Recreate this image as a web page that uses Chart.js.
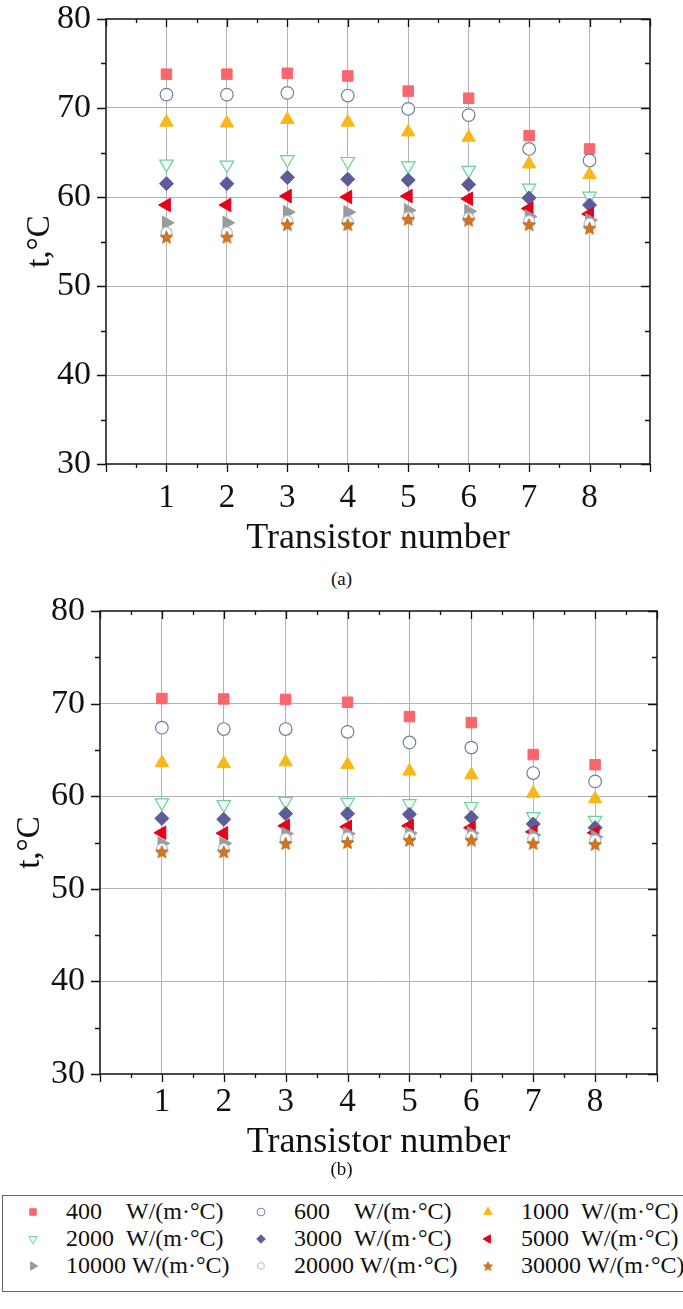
<!DOCTYPE html>
<html>
<head>
<meta charset="utf-8">
<script src="https://cdn.jsdelivr.net/npm/chart.js@4.4.1/dist/chart.umd.min.js"></script>
<style>
    body { margin: 0; background: #fff; width: 683px; height: 1309px; position: relative; overflow: hidden; font-family: "Liberation Serif", "Times New Roman", serif; color: #111; }
    .wrap { position: absolute; left: 0; width: 683px; }
    #wrapA { top: 0; height: 560px; }
    #wrapB { top: 590px; height: 574px; }
    .cap { position: absolute; width: 683px; left: 0; text-align: center; font-size: 19px; line-height: 22px; }
    #legend { position: absolute; left: 2px; top: 1195px; width: 700px; height: 97px; border: 1px solid #666; box-sizing: border-box; }
    .item { position: absolute; height: 27px; font-size: 24px; line-height: 27px; white-space: nowrap; }
    .item canvas { position: absolute; left: 0; top: 4px; }
    .item .num { position: absolute; left: 43px; }
    .item .unit { position: absolute; }
</style>
</head>
<body>
<div class="wrap" id="wrapA"><canvas id="chartA"></canvas></div>
<div class="cap" style="top:568px">(a)</div>
<div class="wrap" id="wrapB"><canvas id="chartB"></canvas></div>
<div class="cap" style="top:1158px">(b)</div>
<div id="legend"></div>

<script>
    const transistors = [1, 2, 3, 4, 5, 6, 7, 8];
    const yTickLabels = [30, 40, 50, 60, 70, 80];
    const hLabels = ["400", "600", "1000", "2000", "3000", "5000", "10000", "20000", "30000"];
    const unit = "W/(m·°C)";

    // (a)
    const a400 = [73.8, 73.8, 73.9, 73.6, 71.9, 71.1, 66.9, 65.4];
    const a600 = [71.5, 71.5, 71.7, 71.4, 69.9, 69.2, 65.4, 64.1];
    const a1000 = [68.4, 68.3, 68.7, 68.4, 67.3, 66.7, 63.7, 62.5];
    const a2000 = [63.7, 63.6, 64.2, 64.0, 63.5, 63.0, 61.0, 60.1];
    const a3000 = [61.5, 61.5, 62.2, 62.0, 61.9, 61.4, 59.9, 59.1];
    const a5000 = [59.1, 59.1, 60.1, 60.0, 60.1, 59.8, 58.7, 58.1];
    const a10000 = [57.1, 57.1, 58.3, 58.3, 58.5, 58.4, 57.8, 57.4];
    const a20000 = [56.0, 56.0, 57.3, 57.2, 57.7, 57.6, 57.3, 57.0];
    const a30000 = [55.5, 55.5, 56.9, 56.9, 57.5, 57.4, 56.9, 56.5];

    // (b)
    const b400 = [70.55, 70.5, 70.45, 70.15, 68.6, 67.95, 64.5, 63.4];
    const b600 = [67.4, 67.25, 67.25, 66.95, 65.8, 65.25, 62.5, 61.6];
    const b1000 = [63.6, 63.5, 63.7, 63.4, 62.7, 62.3, 60.3, 59.7];
    const b2000 = [59.3, 59.1, 59.45, 59.35, 59.2, 58.9, 57.8, 57.4];
    const b3000 = [57.6, 57.5, 58.1, 58.1, 58.05, 57.7, 57.0, 56.6];
    const b5000 = [56.05, 56.0, 56.8, 56.7, 56.8, 56.6, 56.15, 56.05];
    const b10000 = [54.9, 54.9, 55.95, 55.95, 56.0, 56.0, 55.8, 55.6];
    const b20000 = [54.3, 54.3, 55.4, 55.5, 55.6, 55.6, 55.4, 55.2];
    const b30000 = [54.0, 54.0, 54.9, 55.0, 55.25, 55.25, 54.9, 54.8];

    const seriesA = [a400, a600, a1000, a2000, a3000, a5000, a10000, a20000, a30000];
    const seriesB = [b400, b600, b1000, b2000, b3000, b5000, b10000, b20000, b30000];

    Chart.defaults.font.family = "'Liberation Serif', 'Times New Roman', serif";
    Chart.defaults.color = "#111";

    /*
     * Five point star, used as an image point style */
    const makeStar = (size, fill, stroke) => {
        const c = document.createElement("canvas");
        c.width = c.height = size;
        const g = c.getContext("2d");
        const cx = size / 2, R = size / 2 - 0.7, r = R * 0.45;
        g.beginPath();
        for (let i = 0; i < 10; i++) {
            const ang = -Math.PI / 2 + i * Math.PI / 5;
            const rr = i % 2 ? r : R;
            g.lineTo(cx + rr * Math.cos(ang), cx + rr * Math.sin(ang) + 0.6);
        }
        g.closePath();
        g.fillStyle = fill;
        g.fill();
        g.strokeStyle = stroke;
        g.lineWidth = 0.8;
        g.stroke();
        return c;
    };

    const markers = [
        { style: "rect", rot: 0, r: 7.4, fill: "#f9666c", stroke: "#f9666c", bw: 1 },
        { style: "circle", rot: 0, r: 6.3, fill: "#ffffff", stroke: "#6e7ea0", bw: 1.2 },
        { style: "triangle", rot: 0, r: 7.8, fill: "#f8b817", stroke: "#f8b817", bw: 1 },
        { style: "triangle", rot: 180, r: 7.8, fill: "#f4fcf8", stroke: "#6ccf9d", bw: 1.2 },
        { style: "rectRot", rot: 0, r: 7, fill: "#5c5c9b", stroke: "#5c5c9b", bw: 1 },
        { style: "triangle", rot: -90, r: 7.8, fill: "#e6001b", stroke: "#e6001b", bw: 1 },
        { style: "triangle", rot: 90, r: 7.8, fill: "#9b9b9b", stroke: "#9b9b9b", bw: 1 },
        { style: "circle", rot: 0, r: 5.5, fill: "#ffffff", stroke: "#a7bcd9", bw: 1.2 },
        { style: makeStar(15, "#d4751c", "#b45f10"), rot: 0, r: 7, fill: "#d4751c", stroke: "#b45f10", bw: 1 },
    ];

    /*
     * Frame with mirrored tick marks */
    const framePlugin = {
        id: "frame",
        afterDraw(chart) {
            const { ctx, chartArea: a, scales } = chart;
            ctx.save();
            ctx.strokeStyle = "#111";
            ctx.lineWidth = 1.5;
            ctx.strokeRect(a.left, a.top, a.right - a.left, a.bottom - a.top);
            ctx.lineWidth = 1.3;
            ctx.beginPath();
            scales.x.ticks.forEach((t) => {
                const px = Math.round(scales.x.getPixelForValue(t.value)) + 0.5;
                const len = Number.isInteger(t.value) ? 8 : 4;
                ctx.moveTo(px, a.bottom); ctx.lineTo(px, a.bottom + len);
                ctx.moveTo(px, a.top); ctx.lineTo(px, a.top + len);
            });
            scales.y.ticks.forEach((t) => {
                const py = Math.round(scales.y.getPixelForValue(t.value)) + 0.5;
                const len = t.value % 10 === 0 ? 9 : 5;
                ctx.moveTo(a.left, py); ctx.lineTo(a.left - len, py);
                ctx.moveTo(a.right, py); ctx.lineTo(a.right - len, py);
            });
            ctx.stroke();
            ctx.restore();
        },
    };

    const makeChart = (id, series, layout) => {
        const datasets = series.map((vals, i) => ({
            label: hLabels[i] + " " + unit,
            data: transistors.map((n, k) => ({ x: n, y: vals[k] })),
            pointStyle: markers[i].style,
            rotation: markers[i].rot,
            pointRadius: markers[i].r,
            pointHoverRadius: markers[i].r,
            backgroundColor: markers[i].fill,
            borderColor: markers[i].stroke,
            borderWidth: markers[i].bw,
            order: series.length - i,
        }));

        return new Chart(document.getElementById(id), {
            type: "scatter",
            data: { datasets },
            plugins: [framePlugin],
            options: {
                responsive: true,
                maintainAspectRatio: false,
                animation: false,
                layout: { padding: { top: layout.top, right: layout.right, left: 0, bottom: 0 } },
                plugins: { legend: { display: false }, tooltip: { enabled: false } },
                scales: {
                    x: {
                        type: "linear",
                        min: 0,
                        max: 9,
                        afterFit: (s) => {
                            s.height = layout.xHeight;
                            s.paddingLeft = 0;
                            s.paddingRight = 0;
                        },
                        ticks: {
                            stepSize: 0.5,
                            autoSkip: false,
                            maxRotation: 0,
                            padding: layout.xPad,
                            font: { size: 33 },
                            callback: (v) => (transistors.includes(v) ? String(v) : ""),
                        },
                        grid: {
                            drawTicks: false,
                            color: (c) => (c.tick && transistors.includes(c.tick.value) ? "#b2b2b2" : "rgba(0,0,0,0)"),
                        },
                        border: { display: false },
                        title: { display: true, text: "Transistor number", font: { size: 36 }, padding: 0 },
                    },
                    y: {
                        min: 30,
                        max: 80,
                        afterFit: (s) => {
                            s.width = layout.yWidth;
                            s.paddingTop = 0;
                            s.paddingBottom = 0;
                        },
                        ticks: {
                            stepSize: 5,
                            autoSkip: false,
                            padding: 15,
                            font: { size: 34 },
                            callback: (v) => (yTickLabels.includes(v) ? String(v) : ""),
                        },
                        grid: {
                            drawTicks: false,
                            color: (c) => (c.tick && c.tick.value > 30 && c.tick.value < 80 && c.tick.value % 10 === 0 ? "#b2b2b2" : "rgba(0,0,0,0)"),
                        },
                        border: { display: false },
                        title: { display: true, text: "t,°C", font: { size: 33 }, padding: { top: layout.titleLeft, bottom: 0 } },
                    },
                },
            },
        });
    };

    makeChart("chartA", seriesA, { top: 19, right: 33, xHeight: 96, xPad: 15, yWidth: 106, titleLeft: 21 });
    makeChart("chartB", seriesB, { top: 21, right: 26, xHeight: 90, xPad: 9, yWidth: 100, titleLeft: 11 });

    /*
     * Shared legend below the charts */
    const legend = document.getElementById("legend");
    const colX = [20, 248, 475];
    hLabels.forEach((h, i) => {
        const item = document.createElement("div");
        item.className = "item";
        item.style.left = colX[i % 3] + "px";
        item.style.top = (2 + Math.floor(i / 3) * 27) + "px";
        const c = document.createElement("canvas");
        c.width = 20; c.height = 20;
        const g = c.getContext("2d");
        const m = markers[i];
        g.fillStyle = m.fill; g.strokeStyle = m.stroke; g.lineWidth = 1;
        if (typeof m.style === "string" && Chart.helpers && Chart.helpers.drawPoint) {
            Chart.helpers.drawPoint(g, { pointStyle: m.style, rotation: m.rot, radius: m.r * 0.62, borderWidth: 1 }, 10, 10);
        } else {
            g.drawImage(makeStar(11, m.fill, m.stroke), 4.5, 4.5);
        }
        item.appendChild(c);
        const num = document.createElement("span");
        num.className = "num";
        num.textContent = h;
        item.appendChild(num);
        const u = document.createElement("span");
        u.className = "unit";
        u.textContent = unit;
        u.style.left = (h.length > 4 ? 109 : 103) + "px";
        item.appendChild(u);
        legend.appendChild(item);
    });
</script>
</body>
</html>
